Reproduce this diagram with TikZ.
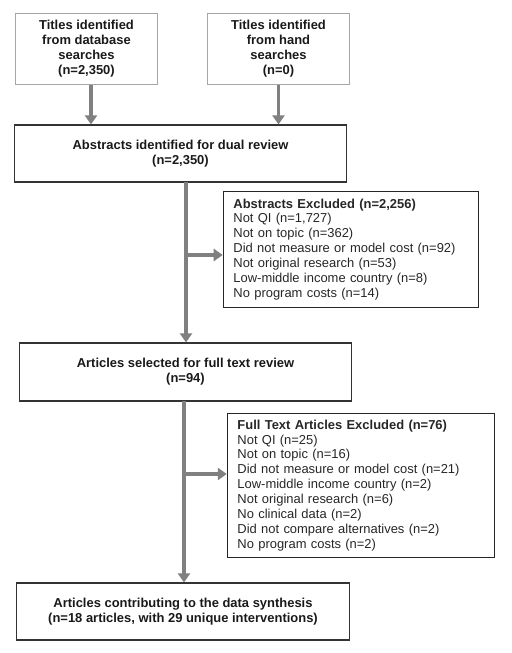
\documentclass[tikz,border=0pt]{standalone}
\usepackage{fontspec}
\setmainfont{Liberation Sans}
\usetikzlibrary{arrows.meta}

\begin{document}
\begin{tikzpicture}[x=1bp, y=-1bp,
  box/.style={draw=black!80, line width=1.4bp, align=center, inner sep=0pt,
    text=black!90, font=\bfseries\fontsize{13}{15}\selectfont},
  titlebox/.style={box, draw=black!35, line width=1bp},
  listbox/.style={draw=black!85, line width=1.4bp, align=left, inner xsep=10bp,
    inner ysep=0pt, text=black!85, font=\fontsize{13}{15}\selectfont},
  flow/.style={draw=black!50, line width=3.5bp, -{Triangle[width=12bp,length=9bp]}}]
  \useasboundingbox (0,0) rectangle (512,653);

  \node[titlebox, minimum width=143, minimum height=72] (DB) at (86.5,49)
    {Titles identified\\from database\\searches\\(n=2,350)};
  \node[titlebox, minimum width=143, minimum height=72] (HS) at (278.5,49)
    {Titles identified\\from hand\\searches\\(n=0)};
  \node[box, minimum width=333, minimum height=57] (AB) at (180.5,153.5)
    {Abstracts identified for dual review\\(n=2,350)};
  \node[listbox, text width=236, minimum height=117] (AX) at (351,249.5)
    {\textbf{Abstracts Excluded (n=2,256)}\\
     Not QI (n=1,727)\\
     Not on topic (n=362)\\
     Did not measure or model cost (n=92)\\
     Not original research (n=53)\\
     Low-middle income country (n=8)\\
     No program costs (n=14)};
  \node[box, minimum width=333, minimum height=58] (FT) at (185.5,372)
    {Articles selected for full text review\\(n=94)};
  \node[listbox, text width=248, minimum height=145] (FX) at (361,485.5)
    {\textbf{Full Text Articles Excluded (n=76)}\\
     Not QI (n=25)\\
     Not on topic (n=16)\\
     Did not measure or model cost (n=21)\\
     Low-middle income country (n=2)\\
     Not original research (n=6)\\
     No clinical data (n=2)\\
     Did not compare alternatives (n=2)\\
     No program costs (n=2)};
  \node[box, minimum width=334, minimum height=57] (SY) at (183,611.5)
    {Articles contributing to the data synthesis\\(n=18 articles, with 29 unique interventions)};

  % trunk and branch points
  \coordinate (T1) at (186,182);
  \coordinate (B1) at (186,255);
  \coordinate (T2) at (184,401);
  \coordinate (B2) at (184,474);

  \draw[flow] ([xshift=4.5]DB.south) -- ([xshift=4.5]DB.south |- AB.north);
  \draw[flow] (HS.south) -- (HS.south |- AB.north);
  \draw[flow] (T1) -- (T1 |- FT.north);
  \draw[flow] (B1) -- (B1 -| AX.west);
  \draw[flow] (T2) -- (T2 |- SY.north);
  \draw[flow] (B2) -- (B2 -| FX.west);
\end{tikzpicture}
\end{document}
